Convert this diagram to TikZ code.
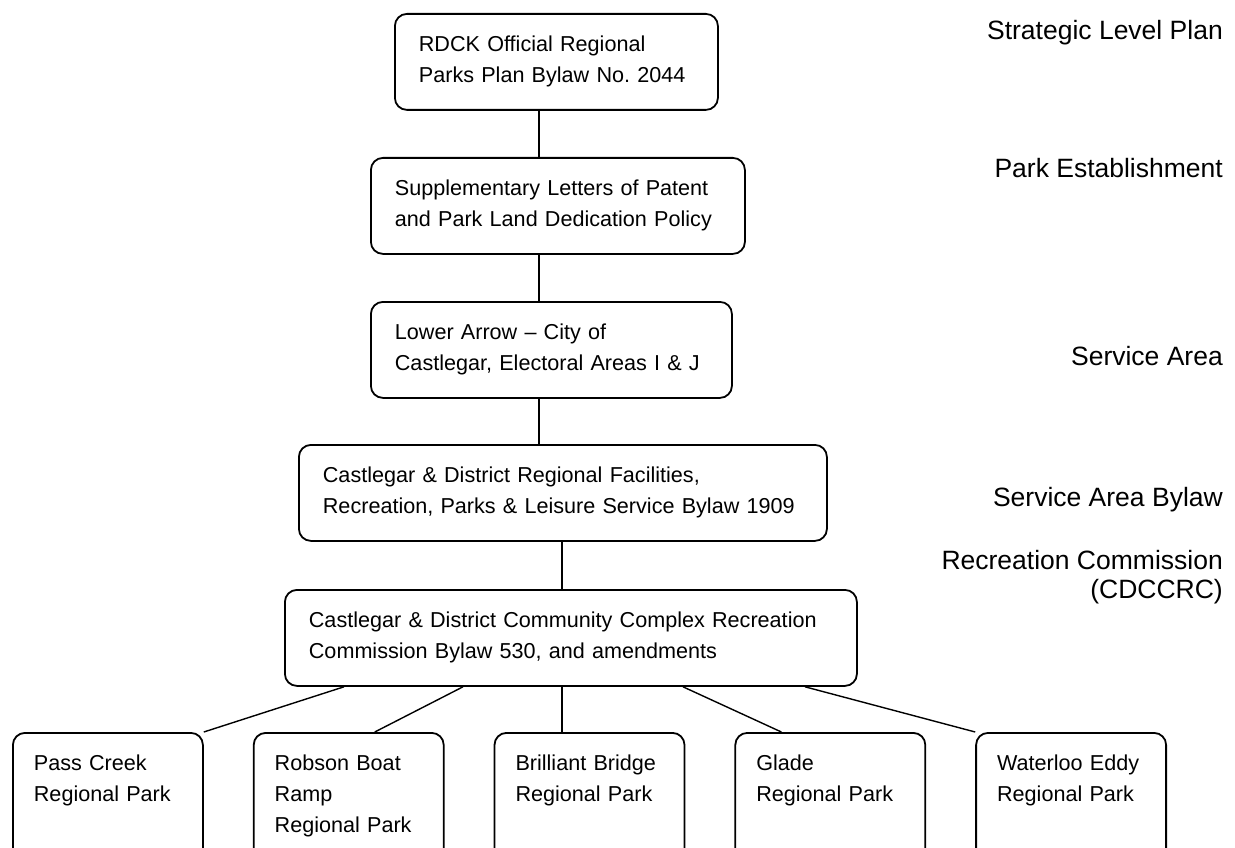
\documentclass[tikz,border=0pt]{standalone}
\usepackage{fontspec}
\setmainfont{Liberation Sans}
\usetikzlibrary{positioning,calc}
\frenchspacing

\begin{document}
\begin{tikzpicture}[
  x=1pt, y=-1pt,
  node distance=49pt,
  box/.style={rectangle, rounded corners=12pt, draw=black, line width=1.8pt, anchor=north west, align=left, font=\fontsize{21.6}{31}\selectfont, inner xsep=24pt, inner ysep=21pt, text height=17pt, text depth=37pt},
  parkbox/.style={box, inner xsep=21pt, text width=148pt, text depth=71pt},
  link/.style={line width=1.4pt},
  level/.style={anchor=north east, align=right, inner sep=0pt, text height=19pt, font=\fontsize{26.5}{29}\selectfont}
]

% Page frame
\fill[white] (0,0) rectangle (1235,848);
\clip (0,0) rectangle (1235,848);
\coordinate (spineA) at (539,0);
\coordinate (spineB) at (562,0);

% Bylaw chain
\node[box, text width=275pt] (rdck) at (394,13) {RDCK Official Regional\\Parks Plan Bylaw No. 2044};
\node[box, text width=326pt] (letters) at (370,157) {Supplementary Letters of Patent\\and Park Land Dedication Policy};
\node[box, text width=313pt] (lower) at (370,301) {Lower Arrow -- City of\\Castlegar, Electoral Areas I \& J};
\node[box, text width=480pt] (facilities) at (298,444) {Castlegar \& District Regional Facilities,\\Recreation, Parks \& Leisure Service Bylaw 1909};
\node[box, text width=524pt] (commission) at (284,589) {Castlegar \& District Community Complex Recreation\\Commission Bylaw 530, and amendments};

% Regional parks
\node[parkbox] (passcreek) at (12,732) {Pass Creek\\Regional Park};
\node[parkbox, right=of passcreek] (robson) {Robson Boat\\Ramp\\Regional Park};
\node[parkbox, right=of robson] (brilliant) {Brilliant Bridge\\Regional Park};
\node[parkbox, right=of brilliant] (glade) {Glade\\Regional Park};
\node[parkbox, right=of glade] (waterloo) {Waterloo Eddy\\Regional Park};

% Level labels
\node[level] (lvlplan) at (1223,20) {Strategic Level Plan};
\node[level] (lvlestab) at (1223,158) {Park Establishment};
\node[level] (lvlarea) at (1223,346) {Service Area};
\node[level] (lvlbylaw) at (1223,487) {Service Area Bylaw};
\node[level] (lvlcomm) at (1223,579) {Recreation Commission\\(CDCCRC)};

% Connectors
\draw[link] (rdck.south -| spineA) -- (letters.north -| spineA);
\draw[link] (letters.south -| spineA) -- (lower.north -| spineA);
\draw[link] (lower.south -| spineA) -- (facilities.north -| spineA);
\draw[link] (facilities.south -| spineB) -- (commission.north -| spineB);
\draw[link] ($(commission.south west)+(60,0)$) -- (passcreek.north east);
\draw[link] ($(commission.south west)+(179,0)$) -- ($(robson.north west)+(122,0)$);
\draw[link] (commission.south -| spineB) -- (brilliant.north -| spineB);
\draw[link] ($(commission.south west)+(399,0)$) -- ($(glade.north west)+(47,0)$);
\draw[link] ($(commission.south west)+(521,0)$) -- (waterloo.north west);

\end{tikzpicture}
\end{document}
